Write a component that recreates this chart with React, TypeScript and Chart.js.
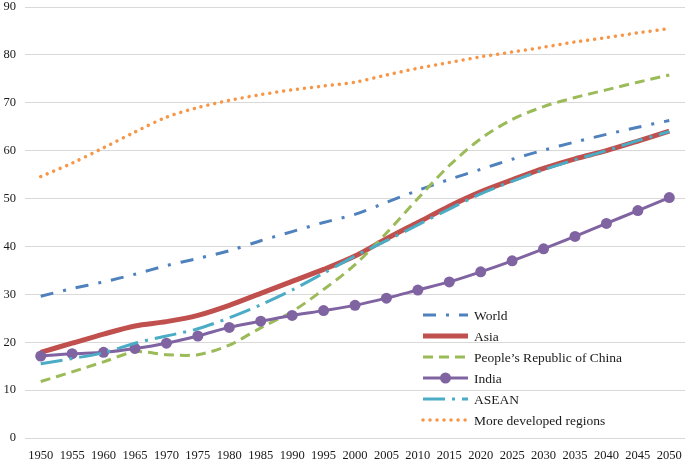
import React, { useEffect, useRef } from "react";
import { Chart, registerables } from "chart.js";

Chart.register(...registerables);

const years = ["1950","1955","1960","1965","1970","1975","1980","1985","1990","1995","2000","2005","2010","2015","2020","2025","2030","2035","2040","2045","2050"];
const yTicks = [0, 10, 20, 30, 40, 50, 60, 70, 80, 90];

const world = [29.6, 31.2, 32.6, 34.2, 36.0, 37.5, 39.1, 41.2, 43.1, 45.0, 46.7, 49.2, 51.7, 54.0, 56.1, 58.2, 60.1, 61.8, 63.4, 64.9, 66.3];
const asia = [17.9, 19.8, 21.7, 23.4, 24.3, 25.6, 27.7, 30.2, 32.7, 35.2, 38.0, 41.6, 45.0, 48.4, 51.4, 53.9, 56.3, 58.3, 60.0, 62.0, 64.1];
const china = [11.8, 13.8, 15.9, 18.0, 17.4, 17.4, 19.4, 23.0, 26.4, 31.0, 36.2, 42.8, 50.0, 56.9, 62.5, 66.5, 69.2, 71.1, 72.7, 74.3, 75.8];
const india = [17.1, 17.6, 17.9, 18.7, 19.8, 21.3, 23.1, 24.4, 25.6, 26.6, 27.7, 29.2, 30.9, 32.6, 34.7, 37.0, 39.5, 42.1, 44.8, 47.5, 50.2];
const asean = [15.5, 16.6, 17.8, 19.8, 21.3, 22.8, 25.1, 27.8, 30.9, 34.4, 38.0, 41.2, 44.5, 47.8, 51.0, 53.6, 56.0, 58.1, 60.0, 62.1, 64.0];
const developed = [54.6, 57.4, 60.6, 63.9, 67.0, 69.0, 70.5, 71.7, 72.7, 73.5, 74.3, 75.8, 77.2, 78.4, 79.6, 80.6, 81.6, 82.7, 83.6, 84.6, 85.5];

const seriesNames = ["World", "Asia", "People\u2019s Republic of China", "India", "ASEAN", "More developed regions"];

const FONT = "'Liberation Serif', 'Times New Roman', serif";

const legendPlugin = {
  id: "insideLegend",
  afterDraw(chart: any) {
    const ctx = chart.ctx;
    const x0 = 423, x1 = 468, tx = 474, y0 = 315, dy = 21;
    chart.data.datasets.forEach((ds: any, i: number) => {
      const y = y0 + i * dy;
      ctx.save();
      ctx.strokeStyle = ds.borderColor;
      ctx.lineWidth = ds.borderWidth;
      ctx.lineCap = ds.borderCapStyle || "butt";
      ctx.setLineDash(ds.borderDash || []);
      ctx.beginPath();
      ctx.moveTo(x0, y);
      ctx.lineTo(x1, y);
      ctx.stroke();
      if (ds.pointRadius && ds.pointRadius > 0) {
        ctx.setLineDash([]);
        ctx.fillStyle = ds.pointBackgroundColor;
        ctx.beginPath();
        ctx.arc((x0 + x1) / 2, y, ds.pointRadius, 0, Math.PI * 2);
        ctx.fill();
      }
      ctx.fillStyle = "#1a1a1a";
      ctx.font = `13.5px ${FONT}`;
      ctx.textBaseline = "middle";
      ctx.textAlign = "left";
      ctx.fillText(ds.label, tx, y + 1);
      ctx.restore();
    });
  },
};

export default function App() {
  const ref = useRef<HTMLCanvasElement | null>(null);
  useEffect(() => {
    if (!ref.current) return;
    const base = { fill: false, tension: 0.3, pointRadius: 0, pointHoverRadius: 0 };
    const chart = new Chart(ref.current, {
      type: "line",
      data: {
        labels: years,
        datasets: [
          { ...base, label: seriesNames[0], data: world, borderColor: "#4F81BD", borderWidth: 3, borderDash: [13, 10, 3, 10], order: 6 },
          { ...base, label: seriesNames[1], data: asia, borderColor: "#C0504D", borderWidth: 5, order: 5 },
          { ...base, label: seriesNames[2], data: china, borderColor: "#9BBB59", borderWidth: 3, borderDash: [10, 6], order: 4 },
          { ...base, label: seriesNames[3], data: india, borderColor: "#8064A2", borderWidth: 3, pointRadius: 5.5, pointBackgroundColor: "#8064A2", pointBorderColor: "#8064A2", pointBorderWidth: 0, order: 3 },
          { ...base, label: seriesNames[4], data: asean, borderColor: "#4BACC6", borderWidth: 3, borderDash: [22, 7, 3, 7], order: 2 },
          { ...base, label: seriesNames[5], data: developed, borderColor: "#F79646", borderWidth: 3.5, borderDash: [0.01, 7], borderCapStyle: "round", order: 1 },
        ],
      } as any,
      options: {
        animation: false,
        responsive: true,
        maintainAspectRatio: false,
        layout: { autoPadding: false, padding: { top: 7, right: 0, left: 0, bottom: 0 } },
        plugins: { legend: { display: false }, tooltip: { enabled: false } },
        scales: {
          x: {
            offset: true,
            grid: { display: false, drawTicks: false },
            border: { display: false },
            ticks: { color: "#1a1a1a", font: { family: FONT, size: 12.5 }, padding: 10, maxRotation: 0, autoSkip: false },
            afterFit: (s: any) => { s.height = 24; s.paddingLeft = 0; s.paddingRight = 0; },
          },
          y: {
            min: 0,
            max: 90,
            afterBuildTicks: (s: any) => { s.ticks = yTicks.map((v) => ({ value: v })); },
            grid: { color: "#d9d9d9", lineWidth: 1, drawTicks: false },
            border: { display: false },
            ticks: { color: "#1a1a1a", font: { family: FONT, size: 12.5 }, padding: 9 },
            afterFit: (s: any) => { s.width = 25; s.paddingTop = 0; s.paddingBottom = 0; },
          },
        },
      } as any,
      plugins: [legendPlugin],
    });
    return () => chart.destroy();
  }, []);
  return (
    <div style={{ position: "absolute", left: 0, top: 0, width: 685, height: 462, background: "#fff" }}>
      <canvas ref={ref} />
    </div>
  );
}
